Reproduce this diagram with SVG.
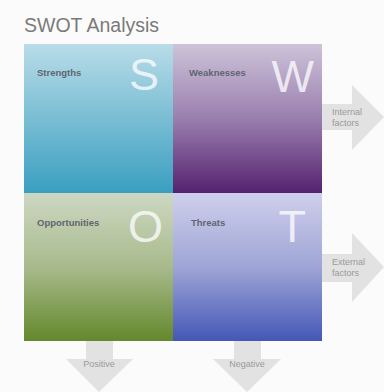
<svg xmlns="http://www.w3.org/2000/svg" width="384" height="392" viewBox="0 0 384 392">
<defs>
<linearGradient id="gS" x1="0" y1="0" x2="0" y2="1"><stop offset="0" stop-color="#b9dce8"/><stop offset="1" stop-color="#3a9fc0"/></linearGradient>
<linearGradient id="gW" x1="0" y1="0" x2="0" y2="1"><stop offset="0" stop-color="#cdc3d9"/><stop offset="0.5" stop-color="#9a7fae"/><stop offset="1" stop-color="#55216f"/></linearGradient>
<linearGradient id="gO" x1="0" y1="0" x2="0" y2="1"><stop offset="0" stop-color="#cdd8c3"/><stop offset="0.5" stop-color="#a8ba8c"/><stop offset="1" stop-color="#64882c"/></linearGradient>
<linearGradient id="gT" x1="0" y1="0" x2="0" y2="1"><stop offset="0" stop-color="#cfcfec"/><stop offset="0.5" stop-color="#9ea5d6"/><stop offset="1" stop-color="#4457b6"/></linearGradient>
<style>
.title{font-family:"Liberation Sans",Arial,sans-serif;font-size:19.5px;fill:#7a7a7a}
.lbl{font-family:"Liberation Sans",Arial,sans-serif;font-size:9.5px;font-weight:bold;fill:#5f6670}
.big{font-family:"Liberation Sans",Arial,sans-serif;font-size:45px;fill:#ffffff;fill-opacity:0.75;text-anchor:end}
.arr{fill:#e2e2e2}
.at{font-family:"Liberation Sans",Arial,sans-serif;font-size:9px;fill:#9a9a9a}
</style>
</defs>
<rect width="384" height="392" fill="#fbfbfb"/>
<text class="title" x="24" y="32">SWOT Analysis</text>
<g id="connectors">
<path class="arr" d="M322,104 H352 V85 L384,117 L352,150 V130 H322 Z"/>
<path class="arr" d="M322,254 H352 V233 L384,267 L352,302 V282 H322 Z"/>
<path class="arr" d="M86,341 H113 V359 H133 L99,392 L66,359 H86 Z"/>
<path class="arr" d="M234,341 H261 V359 H281 L247,392 L213,359 H234 Z"/>
<text class="at" x="332" y="115">Internal</text>
<text class="at" x="332" y="126">factors</text>
<text class="at" x="332" y="265">External</text>
<text class="at" x="332" y="276">factors</text>
<text class="at" x="99" y="367" text-anchor="middle">Positive</text>
<text class="at" x="247" y="367" text-anchor="middle">Negative</text>
</g>
<g id="strengths">
<rect x="24" y="44" width="149" height="149" fill="url(#gS)"/>
<text class="lbl" x="37" y="76">Strengths</text>
<text class="big" x="159" y="90">S</text>
</g>
<g id="weaknesses">
<rect x="173" y="44" width="149" height="149" fill="url(#gW)"/>
<text class="lbl" x="189" y="76">Weaknesses</text>
<text class="big" x="314" y="92">W</text>
</g>
<g id="opportunities">
<rect x="24" y="193" width="149" height="148" fill="url(#gO)"/>
<text class="lbl" x="37" y="226">Opportunities</text>
<text class="big" x="163" y="242">O</text>
</g>
<g id="threats">
<rect x="173" y="193" width="149" height="148" fill="url(#gT)"/>
<text class="lbl" x="191" y="226">Threats</text>
<text class="big" x="306" y="242">T</text>
</g>
</svg>
